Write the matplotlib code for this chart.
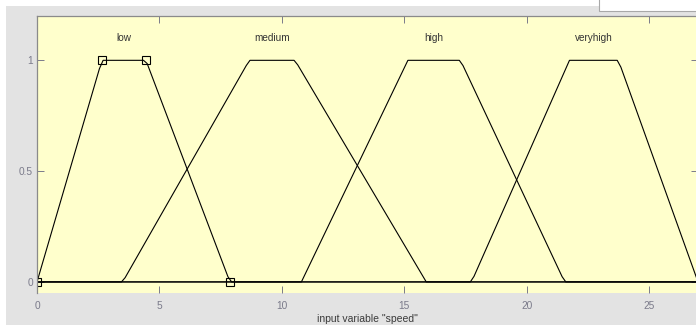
import numpy as np
import matplotlib
matplotlib.use("Agg")
from matplotlib import pyplot as plt
import matplotlib.patches as patches

plt.rcParams['font.family'] = ['Liberation Sans', 'DejaVu Sans']

# membership functions of the input variable "speed" (trapmf parameters)
mf_names = ["low", "medium", "high", "veryhigh"]
mf_params = [
    [0.0, 2.65, 4.45, 7.88],
    [3.5, 8.67, 10.54, 15.9],
    [10.8, 15.15, 17.3, 21.55],
    [17.75, 21.75, 23.75, 27.0],
]
selected = "low"
x_range = [0, 27]
x_ticks = [0, 5, 10, 15, 20, 25]
y_ticks = [0, 0.5, 1]
y_tick_labels = ["0", "0.5", "1"]
n_points = 181

W, H = 696, 327
fig = plt.figure(figsize=(W / 100, H / 100), dpi=100, facecolor="white")

# grey editor panel and the small white box in the corner
fig.add_artist(patches.Rectangle((6 / W, 2 / H), 690 / W, 319 / H,
                                 transform=fig.transFigure, facecolor="#e3e3e3",
                                 edgecolor="none", zorder=-2))
fig.add_artist(patches.Rectangle((599 / W, (H - 11) / H), 100 / W, 20 / H,
                                 transform=fig.transFigure, facecolor="white",
                                 edgecolor="#a8a8a8", linewidth=0.8, zorder=-1))

ax = fig.add_axes([37 / W, 34 / H, 661 / W, 277 / H])
ax.set_facecolor("#ffffcc")

x = np.linspace(x_range[0], x_range[1], n_points)
for name, p in zip(mf_names, mf_params):
    y = np.interp(x, p, [0, 1, 1, 0], left=0, right=0)
    ax.plot(x, y, color="black", linewidth=0.8)
    ax.text((p[1] + p[2]) / 2, 1.1, name, ha="center", va="center",
            fontsize=7.2, color="#333333")
    if name == selected:
        ax.plot(p, [0, 1, 1, 0], linestyle="none", marker="s", markersize=5.5,
                markerfacecolor="none", markeredgecolor="black",
                markeredgewidth=0.8)

ax.set_xlim(x_range)
ax.set_ylim(-0.05, 1.2)
ax.set_xticks(x_ticks)
ax.set_yticks(y_ticks)
ax.set_yticklabels(y_tick_labels)

grey = "#7a7a8a"
ax.tick_params(direction="in", length=5, width=0.7, color=grey,
               labelcolor=grey, labelsize=7.3, top=True, right=True)
ax.tick_params(axis="x", pad=6)
ax.tick_params(axis="y", pad=3)
for side in ["left", "top"]:
    ax.spines[side].set_color("#8a8a8a")
    ax.spines[side].set_linewidth(0.9)
ax.spines["bottom"].set_visible(False)
ax.spines["right"].set_visible(False)

ax.set_xlabel('input variable "speed"', fontsize=7.5, color="#3a3a3a",
              labelpad=2)

fig.savefig("out.png", dpi=100, facecolor=fig.get_facecolor())
